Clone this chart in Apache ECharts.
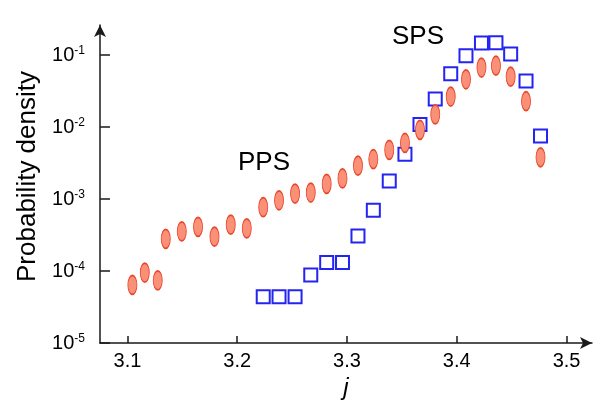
<!DOCTYPE html>
<html lang="en" style="height: 100%">
<head>
  <meta charset="utf-8">
</head>
<body style="height: 100%; margin: 0; background: #fff">
  <div id="container" style="height: 100%"></div>

  <script type="text/javascript" src="https://fastly.jsdelivr.net/npm/echarts@6/dist/echarts.min.js"></script>
  <script type="text/javascript">
    // PPS (red ellipses)
    var ppsJ = [3.1045, 3.1158, 3.1276, 3.1349, 3.1495, 3.1643, 3.1793, 3.1941, 3.2087, 3.2237,
      3.2381, 3.2527, 3.2670, 3.2815, 3.2959, 3.3100, 3.3240, 3.3385, 3.3528, 3.3665,
      3.3804, 3.3945, 3.4084, 3.4225, 3.4357, 3.4491, 3.4631, 3.4763];
    var ppsP = [6.4e-5, 9.5e-5, 7.4e-5, 2.8e-4, 3.56e-4, 4.1e-4, 3.0e-4, 4.4e-4, 3.9e-4, 7.7e-4,
      9.6e-4, 1.19e-3, 1.23e-3, 1.62e-3, 1.93e-3, 2.9e-3, 3.57e-3, 4.8e-3, 6.0e-3, 9.1e-3,
      1.5e-2, 2.65e-2, 4.6e-2, 6.7e-2, 7.1e-2, 5.0e-2, 2.28e-2, 3.8e-3];

    // SPS (blue squares)
    var spsJ = [3.2237, 3.2381, 3.2527, 3.2670, 3.2815, 3.2959, 3.3100, 3.3240, 3.3385, 3.3528,
      3.3665, 3.3804, 3.3945, 3.4084, 3.4225, 3.4357, 3.4491, 3.4631, 3.4763];
    var spsP = [4.4e-5, 4.4e-5, 4.4e-5, 8.8e-5, 1.31e-4, 1.31e-4, 3.06e-4, 7.0e-4, 1.78e-3, 4.2e-3,
      1.08e-2, 2.45e-2, 5.5e-2, 9.8e-2, 0.147, 0.148, 0.103, 4.35e-2, 7.5e-3];

    var xTicks = [3.1, 3.2, 3.3, 3.4, 3.5];
    var yTicks = [1e-5, 1e-4, 1e-3, 1e-2, 1e-1];

    function pairs(xs, ys) {
      return xs.map(function (x, i) { return [x, ys[i]]; });
    }

    var dom = document.getElementById('container');
    var myChart = echarts.init(dom, null, { renderer: 'canvas' });

    var font = 'Liberation Sans, Arial, sans-serif';
    var axisColor = '#1a1a1a';

    var option = {
      animation: false,
      textStyle: { fontFamily: font },
      grid: { left: 100, right: 21, top: 25, bottom: 64 },
      xAxis: {
        type: 'value',
        min: 3.075,
        max: 3.5232,
        name: 'j',
        nameLocation: 'middle',
        nameGap: 30,
        nameTextStyle: { fontSize: 24, fontStyle: 'italic', color: '#000', fontFamily: font },
        splitLine: { show: false },
        axisLine: {
          onZero: false,
          symbol: ['none', 'arrow'],
          symbolSize: [9, 12],
          lineStyle: { color: axisColor, width: 1.5 }
        },
        axisTick: {
          inside: true, length: 7, customValues: xTicks,
          lineStyle: { color: axisColor, width: 1.5 }
        },
        axisLabel: {
          customValues: xTicks, margin: 8, fontSize: 20, color: '#000',
          formatter: function (v) { return v.toFixed(1); }
        }
      },
      yAxis: {
        type: 'log',
        min: 1e-5,
        max: Math.pow(10, -0.5833),
        name: 'Probability density',
        nameLocation: 'middle',
        nameRotate: 90,
        nameGap: 58,
        nameTextStyle: { fontSize: 26, color: '#000', fontFamily: font, padding: [0, 0, 0, 15] },
        splitLine: { show: false },
        axisLine: {
          onZero: false,
          symbol: ['none', 'arrow'],
          symbolSize: [9, 12],
          lineStyle: { color: axisColor, width: 1.5 }
        },
        axisTick: {
          inside: true, length: 10, customValues: yTicks,
          lineStyle: { color: axisColor, width: 1.5 }
        },
        axisLabel: {
          customValues: yTicks, margin: 15, color: '#000',
          formatter: function (v) {
            return '{b|10}{s|' + Math.round(Math.log10(v)) + '}';
          },
          rich: {
            b: { fontSize: 20, fontFamily: font, color: '#000' },
            s: { fontSize: 12, fontFamily: font, color: '#000', padding: [0, 0, 9, 0] }
          }
        }
      },
      graphic: [
        { type: 'text', left: 238, top: 150, style: { text: 'PPS', font: '26px ' + font, fill: '#000' } },
        { type: 'text', left: 392, top: 24, style: { text: 'SPS', font: '26px ' + font, fill: '#000' } }
      ],
      series: [
        {
          name: 'SPS',
          type: 'scatter',
          symbol: 'rect',
          symbolSize: 13,
          z: 2,
          itemStyle: { color: 'rgba(0,0,0,0)', borderColor: '#2424f2', borderWidth: 2, opacity: 1 },
          data: pairs(spsJ, spsP)
        },
        {
          name: 'PPS',
          type: 'scatter',
          symbol: 'path://M5,0A5,10,0,1,1,5,20A5,10,0,1,1,5,0Z',
          symbolSize: [9, 19],
          z: 3,
          itemStyle: { color: '#fb9079', borderColor: '#e8462a', borderWidth: 1.2, opacity: 1 },
          data: pairs(ppsJ, ppsP)
        }
      ]
    };

    myChart.setOption(option);
    window.addEventListener('resize', myChart.resize);
  </script>
</body>
</html>
